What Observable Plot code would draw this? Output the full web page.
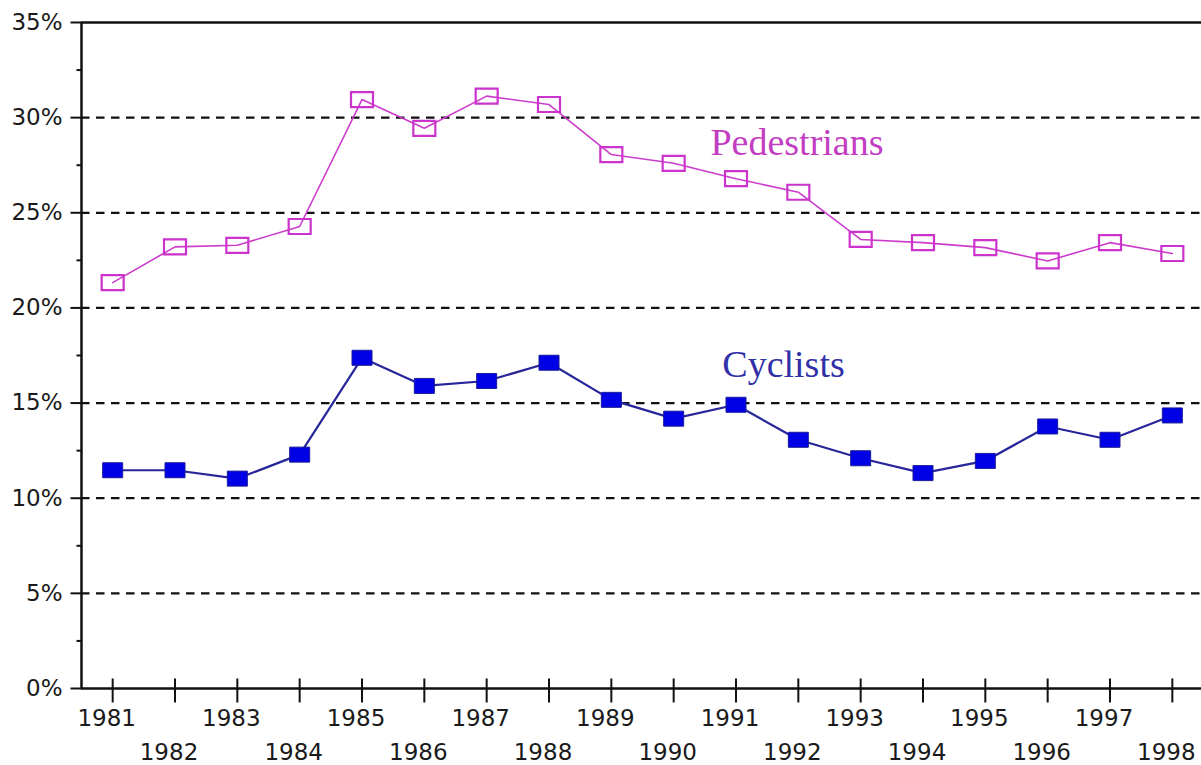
<!DOCTYPE html>
<html>
<head>
<meta charset="utf-8">
<script src="https://cdn.jsdelivr.net/npm/d3@7"></script>
<script src="https://cdn.jsdelivr.net/npm/@observablehq/plot@0.6"></script>
<style>
  html, body { margin: 0; padding: 0; background: #fff; }
  #chart svg { display: block; }
</style>
</head>
<body>
<div id="chart"></div>
<script>
const years = [1981, 1982, 1983, 1984, 1985, 1986, 1987, 1988, 1989, 1990, 1991, 1992, 1993, 1994, 1995, 1996, 1997, 1998];
const pedestrians = [21.33, 23.21, 23.29, 24.28, 30.95, 29.44, 31.13, 30.69, 28.06, 27.6, 26.79, 26.08, 23.6, 23.43, 23.17, 22.47, 23.43, 22.86];
const cyclists = [11.47, 11.47, 11.03, 12.29, 17.38, 15.9, 16.16, 17.12, 15.17, 14.18, 14.91, 13.07, 12.1, 11.32, 11.96, 13.77, 13.07, 14.35];
const yTicks = [0, 5, 10, 15, 20, 25, 30, 35];
const yMinor = [2.5, 7.5, 12.5, 17.5, 22.5, 27.5, 32.5];
const gridLines = [5, 10, 15, 20, 25, 30];
const seriesLabels = ["Pedestrians", "Cyclists"];

const pedData = years.map((y, i) => ({year: y, value: pedestrians[i]}));
const cycData = years.map((y, i) => ({year: y, value: cyclists[i]}));
const oddYears = years.filter(y => y % 2 === 1);
const evenYears = years.filter(y => y % 2 === 0);

const rectSym = (w, h) => ({draw(ctx) {
  ctx.moveTo(-w / 2, -h / 2); ctx.lineTo(w / 2, -h / 2); ctx.lineTo(w / 2, h / 2); ctx.lineTo(-w / 2, h / 2); ctx.closePath();
}});
const vTick = {draw(ctx) { ctx.moveTo(0, -10); ctx.lineTo(0, 14); }};
const hTickMajor = {draw(ctx) { ctx.moveTo(-11, 0); ctx.lineTo(0, 0); }};
const hTickMinor = {draw(ctx) { ctx.moveTo(-5, 0); ctx.lineTo(0, 0); }};

const xLeft = 1980.5;
const tickFont = {fontFamily: "DejaVu Sans", fontSize: 23, fill: "#1a1a1a"};

const chart = Plot.plot({
  width: 1201,
  height: 765,
  marginLeft: 81,
  marginRight: 0,
  marginTop: 22,
  marginBottom: 77,
  x: {domain: [1980.5, 1998.5], range: [81, 1203], axis: null},
  y: {domain: [0, 35], range: [688, 22], axis: null},
  style: {background: "#fff"},
  marks: [
    Plot.ruleY(gridLines, {stroke: "#111", strokeWidth: 2.3, strokeDasharray: "8.5,6.5"}),
    Plot.ruleY([35], {stroke: "#111", strokeWidth: 2.5}),
    Plot.ruleY([0], {stroke: "#111", strokeWidth: 2.5}),
    Plot.ruleX([xLeft], {y1: 0, y2: 35, stroke: "#111", strokeWidth: 2.5}),
    Plot.dot(yTicks, {x: () => xLeft, y: d => d, symbol: hTickMajor, stroke: "#111", strokeWidth: 2, r: 5}),
    Plot.dot(yMinor, {x: () => xLeft, y: d => d, symbol: hTickMinor, stroke: "#111", strokeWidth: 2, r: 3}),
    Plot.dot(years, {x: d => d, y: () => 0, symbol: vTick, stroke: "#111", strokeWidth: 2, r: 5}),
    Plot.text(yTicks, {x: () => xLeft, y: d => d, text: d => d + "%", textAnchor: "end", lineAnchor: "middle", dx: -19, ...tickFont}),
    Plot.text(oddYears, {x: d => d, y: () => 0, text: d => String(d), lineAnchor: "middle", dx: -6, dy: 30, ...tickFont}),
    Plot.text(evenYears, {x: d => d, y: () => 0, text: d => String(d), lineAnchor: "middle", dx: -6, dy: 64, ...tickFont}),
    Plot.line(pedData, {x: "year", y: "value", stroke: "#cc3ccc", strokeWidth: 1.6}),
    Plot.dot(pedData, {x: "year", y: "value", symbol: rectSym(22, 15), stroke: "#cc33cc", strokeWidth: 2.2, fill: "none", r: 8}),
    Plot.line(cycData, {x: "year", y: "value", stroke: "#26269a", strokeWidth: 2.2}),
    Plot.dot(cycData, {x: "year", y: "value", symbol: rectSym(20, 15), stroke: "#1a1a9a", strokeWidth: 1, fill: "#0000e6", r: 8}),
    Plot.text([seriesLabels[0]], {x: () => 1990.59, y: () => 28.7, text: d => d, textAnchor: "start", lineAnchor: "middle", fontFamily: "Liberation Serif", fontSize: 38, fill: "#c23dc2"}),
    Plot.text([seriesLabels[1]], {x: () => 1990.78, y: () => 17.0, text: d => d, textAnchor: "start", lineAnchor: "middle", fontFamily: "Liberation Serif", fontSize: 38, fill: "#3030a8"})
  ]
});
document.getElementById("chart").appendChild(chart);
</script>
</body>
</html>
